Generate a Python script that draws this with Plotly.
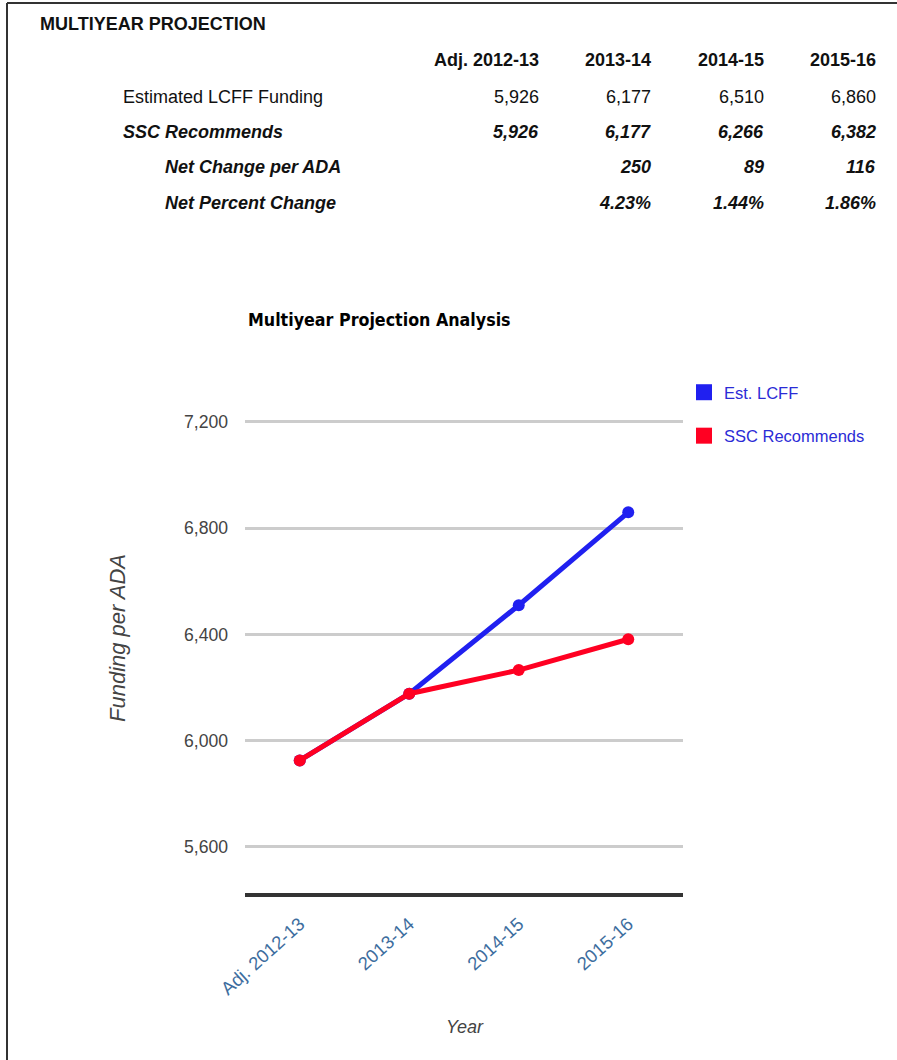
import plotly.graph_objects as go

# ---------------- data ----------------
years = ["Adj. 2012-13", "2013-14", "2014-15", "2015-16"]
est_lcff = [5926, 6177, 6510, 6860]
ssc_recommends = [5926, 6177, 6266, 6382]
net_change = [None, 250, 89, 116]
net_percent = [None, "4.23%", "1.44%", "1.86%"]
series_names = ["Est. LCFF", "SSC Recommends"]
y_ticks = [5600, 6000, 6400, 6800, 7200]

# ---------------- styles ----------------
W, H = 897, 1060
L, R, T, B = 245, 683, 414, 893  # plot area in pixels
SANS = "Liberation Sans, Arial, sans-serif"
COND = "DejaVu Sans Condensed, Liberation Sans, sans-serif"
BLUE = "#2020f0"
RED = "#ff0022"


def px(xp):
    return (xp - L) / (R - L)


def py(yp):
    return (B - yp) / (B - T)


fig = go.Figure()
fig.add_trace(go.Scatter(x=years, y=est_lcff, mode="lines+markers", name=series_names[0],
                         line=dict(color=BLUE, width=5), marker=dict(size=12, color=BLUE),
                         showlegend=False))
fig.add_trace(go.Scatter(x=years, y=ssc_recommends, mode="lines+markers", name=series_names[1],
                         line=dict(color=RED, width=5), marker=dict(size=12, color=RED),
                         showlegend=False))
# legend entries (square swatches)
for nm, col in zip(series_names, [BLUE, RED]):
    fig.add_trace(go.Scatter(x=[None], y=[None], mode="markers", name=nm, legendgroup=nm,
                             marker=dict(symbol="square", size=16, color=col)))

ann = []
# table title
ann.append(dict(x=px(38), y=py(24), text="<b>MULTIYEAR PROJECTION</b>", xanchor="left"))
col_right = [541, 653, 766, 878]
rows_y = [60, 97, 132, 167, 203]
for j, yr in enumerate(years):
    ann.append(dict(x=px(col_right[j]), y=py(rows_y[0]), text=f"<b>{yr}</b>", xanchor="right"))
    ann.append(dict(x=px(col_right[j]), y=py(rows_y[1]), text=f"{est_lcff[j]:,}", xanchor="right"))
    ann.append(dict(x=px(col_right[j]), y=py(rows_y[2]), text=f"<b><i>{ssc_recommends[j]:,}</i></b>", xanchor="right"))
    if net_change[j] is not None:
        ann.append(dict(x=px(col_right[j]), y=py(rows_y[3]), text=f"<b><i>{net_change[j]}</i></b>", xanchor="right"))
    if net_percent[j] is not None:
        ann.append(dict(x=px(col_right[j]), y=py(rows_y[4]), text=f"<b><i>{net_percent[j]}</i></b>", xanchor="right"))
ann.append(dict(x=px(121), y=py(rows_y[1]), text="Estimated LCFF Funding", xanchor="left"))
ann.append(dict(x=px(121), y=py(rows_y[2]), text="<b><i>SSC Recommends</i></b>", xanchor="left"))
ann.append(dict(x=px(163), y=py(rows_y[3]), text="<b><i>Net Change per ADA</i></b>", xanchor="left"))
ann.append(dict(x=px(163), y=py(rows_y[4]), text="<b><i>Net Percent Change</i></b>", xanchor="left"))
for a in ann:
    a.update(xref="paper", yref="paper", yanchor="middle", showarrow=False,
             font=dict(family=SANS, size=18, color="#111111"))

# axis titles
ann.append(dict(x=px(117), y=py(638), xref="paper", yref="paper", text="<i>Funding per ADA</i>",
                textangle=-90, showarrow=False, xanchor="center", yanchor="middle",
                font=dict(family=SANS, size=22, color="#444444")))
ann.append(dict(x=px(465), y=py(1027), xref="paper", yref="paper", text="<i>Year</i>",
                showarrow=False, xanchor="center", yanchor="middle",
                font=dict(family=SANS, size=18, color="#444444")))

shapes = [
    dict(type="line", xref="paper", yref="paper", x0=px(7), x1=px(897), y0=py(3), y1=py(3),
         line=dict(color="#333333", width=2)),
    dict(type="line", xref="paper", yref="paper", x0=px(7), x1=px(7), y0=py(3), y1=py(1060),
         line=dict(color="#333333", width=2)),
]

fig.update_layout(
    width=W, height=H,
    margin=dict(l=L, r=W - R, t=T, b=H - B, pad=0, autoexpand=False),
    paper_bgcolor="white", plot_bgcolor="white",
    title=dict(text="<b>Multiyear Projection Analysis</b>", xref="container", yref="container",
               x=248 / W, xanchor="left", y=1 - 320 / H, yanchor="middle",
               font=dict(family=COND, size=17.7, color="#000000")),
    xaxis=dict(type="category", categoryorder="array", categoryarray=years, range=[-0.5, 3.5],
               showgrid=False, showline=True, linecolor="#333333", linewidth=4,
               tickangle=-42, ticklabelstandoff=9,
               tickfont=dict(family=SANS, size=18.5, color="#3d6d9e"), fixedrange=True),
    yaxis=dict(range=[5426.8, 7230], tickvals=y_ticks, tickformat=",d", showgrid=True,
               gridcolor="#cccccc", gridwidth=3, zeroline=False, showline=False,
               ticklabelstandoff=16, tickfont=dict(family=SANS, size=17.6, color="#444444")),
    legend=dict(x=px(684), y=py(375), xanchor="left", yanchor="top", xref="paper", yref="paper",
                font=dict(family=SANS, size=16.5, color="#2b2bd6"), tracegroupgap=19,
                itemwidth=30, bgcolor="rgba(0,0,0,0)"),
    annotations=ann, shapes=shapes,
)

fig.write_html("out.html")
